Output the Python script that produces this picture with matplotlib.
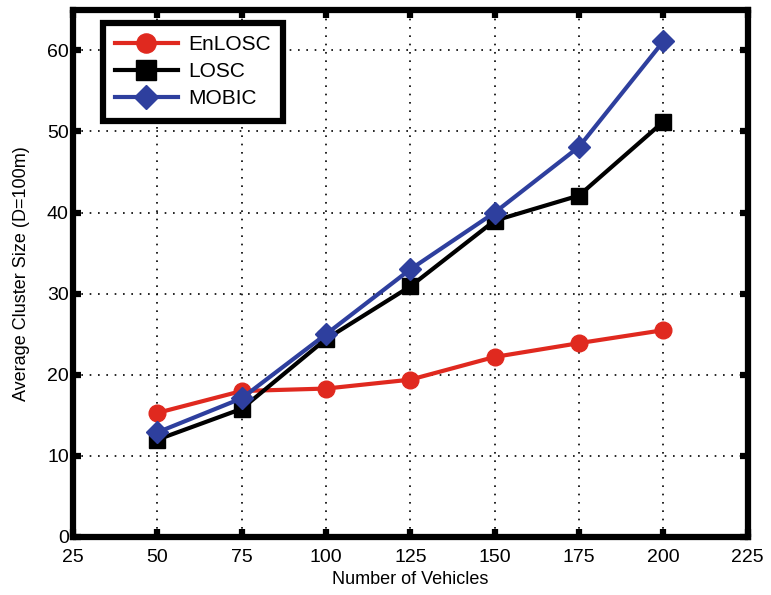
import numpy as np
import matplotlib
matplotlib.use('Agg')
from matplotlib import pyplot as plt

plt.rcParams['font.family'] = ['Liberation Sans', 'DejaVu Sans']

vehicles = [50, 75, 100, 125, 150, 175, 200]
enlosc = [15.3, 18.0, 18.3, 19.4, 22.2, 23.9, 25.5]
losc = [12.0, 15.8, 24.4, 30.9, 39.0, 42.1, 51.2]
mobic = [12.9, 17.1, 25.0, 33.0, 40.0, 48.1, 61.1]
xticks = [25, 50, 75, 100, 125, 150, 175, 200, 225]
yticks = [0, 10, 20, 30, 40, 50, 60]

fig = plt.figure(figsize=(7.71, 5.95), dpi=100)
ax = fig.add_axes([0.0947, 0.0975, 0.875, 0.886])

ax.plot(vehicles, enlosc, '-o', color='#e0291f', lw=3, ms=12, label='EnLOSC')
ax.plot(vehicles, losc, '-s', color='black', lw=3, ms=12, label='LOSC')
ax.plot(vehicles, mobic, '-D', color='#2e3f9e', lw=3, ms=11, label='MOBIC')

ax.set_xlim(25, 225)
ax.set_ylim(0, 65)
ax.set_xticks(xticks)
ax.set_yticks(yticks)
ax.grid(True, color='black', linestyle=(0, (1, 4)), lw=1.2)
for s in ax.spines.values():
    s.set_linewidth(4.5)
ax.tick_params(direction='in', length=6, width=4.5, labelsize=14, top=True, right=True)
ax.tick_params(axis='x', pad=9)
ax.tick_params(axis='y', pad=3)
ax.set_xlabel('Number of Vehicles', fontsize=13, labelpad=3)
ax.set_ylabel('Average Cluster Size (D=100m)', fontsize=13, labelpad=12)

leg = ax.legend(loc='upper left', bbox_to_anchor=(0.044, 0.975), borderaxespad=0,
                fontsize=15, fancybox=False, framealpha=1, edgecolor='black',
                handlelength=3.0, handletextpad=0.5, borderpad=0.6,
                labelspacing=0.38, markerscale=1.15)
leg.get_frame().set_linewidth(4.5)

plt.savefig('out.png', dpi=100)
